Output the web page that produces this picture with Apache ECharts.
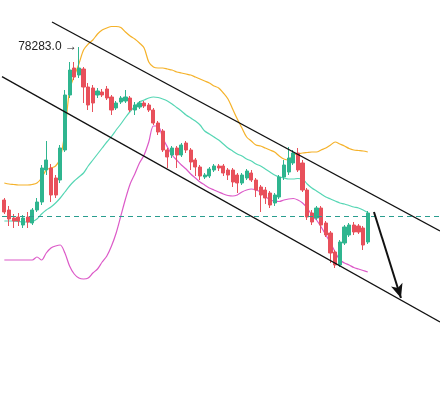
<!DOCTYPE html>
<html>
<head>
<meta charset="utf-8">
<script src="https://cdn.jsdelivr.net/npm/echarts@6/dist/echarts.min.js"></script>
<style>html,body{margin:0;padding:0;background:#fff;}#c{width:440px;height:394px;}</style>
</head>
<body>
<div id="c"></div>
<script>
// ---- data ----
const slotCount = 94;
const categories = Array.from({length: slotCount}, (_, i) => String(i));
const open  = [76753,76653,76573,76583,76503,76583,76523,76653,76733,77053,77073,76973,76953,77253,77803,78073,78003,78063,77883,77873,77803,77833,77863,77783,77673,77733,77743,77773,77653,77683,77723,77703,77653,77523,77443,77253,77203,77273,77203,77323,77253,77153,77083,76983,76993,77053,77093,77093,77053,77053,77003,76923,76973,77023,76953,76883,76853,76823,76723,76783,76983,77033,77123,77223,77123,76853,76623,76573,76673,76523,76423,76233,76103,76323,76403,76503,76493,76473,76333];
const close = [76633,76563,76543,76543,76573,76533,76653,76733,77073,77153,76803,76803,77273,77803,78053,77983,78073,77883,77703,77723,77843,77803,77773,77653,77723,77773,77783,77653,77703,77723,77693,77653,77523,77433,77253,77183,77273,77203,77303,77253,77133,77083,76993,77003,77063,77093,77073,77023,77003,76933,76923,77003,77043,76953,76853,76803,76773,76703,76803,76983,77103,77173,77223,77053,76853,76583,76533,76673,76503,76403,76223,76103,76333,76483,76503,76433,76433,76303,76623];
const low   = [76613,76493,76473,76493,76473,76473,76503,76633,76703,77003,76733,76773,76923,77233,77773,77953,77973,77723,77653,77633,77773,77783,77753,77603,77653,77713,77723,77633,77603,77663,77673,77633,77503,77403,77233,77073,77173,77073,77183,77223,77053,76993,76953,76963,76973,77033,77043,76993,76953,76883,76823,76903,76953,76933,76783,76633,76713,76673,76693,76763,76953,77003,77103,77033,76833,76553,76503,76553,76423,76383,76123,76073,76083,76303,76383,76403,76413,76253,76313];
const high  = [76773,76693,76613,76623,76603,76633,76673,76773,77103,77343,77113,77003,77303,77853,78133,78133,78283,78083,77923,77903,77873,77863,77893,77803,77743,77793,77853,77793,77733,77743,77743,77723,77673,77543,77463,77273,77293,77293,77323,77343,77273,77173,77103,77023,77083,77113,77113,77113,77073,77073,77023,77023,77063,77053,76973,76903,76883,76843,76823,77003,77153,77283,77253,77273,77153,76873,76653,76693,76693,76543,76443,76253,76353,76503,76523,76533,76513,76493,76643];
const upperBand = [76923,76913,76908,76903,76903,76903,76908,76923,76973,77053,77073,77093,77173,77433,77853,77993,78113,78253,78313,78353,78413,78453,78473,78488,78488,78478,78433,78393,78363,78323,78273,78133,78083,78073,78073,78063,78053,78033,78023,78013,78003,77983,77963,77943,77923,77893,77873,77823,77763,77663,77563,77473,77383,77343,77303,77293,77273,77253,77233,77193,77163,77153,77203,77213,77223,77228,77233,77233,77253,77273,77303,77333,77313,77293,77268,77253,77248,77243,77233];
const midBand   = [76543,76543,76543,76538,76533,76533,76538,76563,76613,76653,76683,76723,76773,76833,76893,76943,76983,77023,77093,77153,77213,77273,77333,77388,77453,77513,77578,77638,77688,77733,77753,77773,77783,77778,77763,77743,77713,77678,77643,77603,77573,77543,77503,77443,77413,77383,77353,77313,77273,77243,77213,77193,77163,77143,77113,77093,77063,77033,77003,76983,76973,76963,76963,76968,76963,76913,76873,76843,76813,76783,76763,76743,76723,76713,76698,76683,76673,76653,76628];
const lowerBand = [76153,76153,76153,76153,76153,76153,76153,76183,76153,76223,76273,76293,76303,76223,76093,76013,75973,75963,75973,76023,76063,76133,76193,76293,76423,76593,76763,76913,77013,77123,77203,77333,77493,77493,77373,77283,77203,77153,77103,77063,77013,76973,76933,76903,76873,76853,76833,76813,76798,76793,76803,76833,76853,76863,76853,76833,76793,76753,76743,76738,76753,76763,76768,76753,76723,76673,76603,76553,76483,76403,76323,76233,76153,76123,76103,76078,76063,76048,76033];
const levelLine = 76593;
const upperChannel = [[10.23, 78533], [93.5, 76443]];
const lowerChannel = [[-0.5, 77987], [93.5, 75533]];
const arrowFrom = [79.33, 76633];
const arrowTo   = [85.12, 75773];

// ---- build ----
const candles = open.map((o, i) => [o, close[i], low[i], high[i]]);
let hiIdx = 0;
high.forEach((h, i) => { if (h > high[hiIdx]) hiIdx = i; });

const chart = echarts.init(document.getElementById('c'), null, {renderer: 'canvas'});
chart.setOption({
  animation: false,
  backgroundColor: '#ffffff',
  grid: {left: 2, right: 0, top: 0, bottom: 0},
  xAxis: [
    {type: 'category', data: categories, show: false, boundaryGap: true},
    {type: 'value', min: -0.5, max: slotCount - 0.5, show: false}
  ],
  yAxis: {type: 'value', min: 74813, max: 78753, show: false, scale: true},
  series: [
    {
      type: 'line', data: upperBand, showSymbol: false, smooth: 0.3,
      lineStyle: {color: '#f5b22a', width: 1.2}, z: 2
    },
    {
      type: 'line', data: midBand, showSymbol: false, smooth: 0.3,
      lineStyle: {color: '#56d6b4', width: 1.2}, z: 2
    },
    {
      type: 'line', data: lowerBand, showSymbol: false, smooth: 0.3,
      lineStyle: {color: '#dc5ac8', width: 1.2}, z: 2
    },
    {
      type: 'candlestick', data: candles, barWidth: 3.6, z: 3,
      itemStyle: {color: '#2fb58f', color0: '#e8505b', borderColor: '#2fb58f', borderColor0: '#e8505b', borderWidth: 1},
      markLine: {
        silent: true, symbol: ['none', 'none'],
        lineStyle: {color: '#2a9d8f', type: [5, 4], width: 1},
        label: {show: false},
        data: [{yAxis: levelLine}]
      },
      markPoint: {
        silent: true, symbol: 'circle', symbolSize: 0,
        data: [{coord: [hiIdx, high[hiIdx]], value: high[hiIdx]}],
        label: {
          show: true, position: 'left', distance: 2,
          formatter: p => p.value.toFixed(1) + ' \u2192',
          color: '#222', fontSize: 12, fontFamily: 'Liberation Sans, Arial, sans-serif'
        }
      }
    },
    {
      type: 'line', xAxisIndex: 1, data: upperChannel, showSymbol: false,
      lineStyle: {color: '#111', width: 1.3}, z: 4
    },
    {
      type: 'line', xAxisIndex: 1, data: lowerChannel, showSymbol: false,
      lineStyle: {color: '#111', width: 1.3}, z: 4,
      markLine: {
        silent: true, symbol: ['none', 'arrow'], symbolSize: [9, 14],
        label: {show: false},
        lineStyle: {color: '#111', width: 2, type: 'solid'},
        data: [[{coord: arrowFrom}, {coord: arrowTo}]]
      }
    }
  ]
});
</script>
</body>
</html>
